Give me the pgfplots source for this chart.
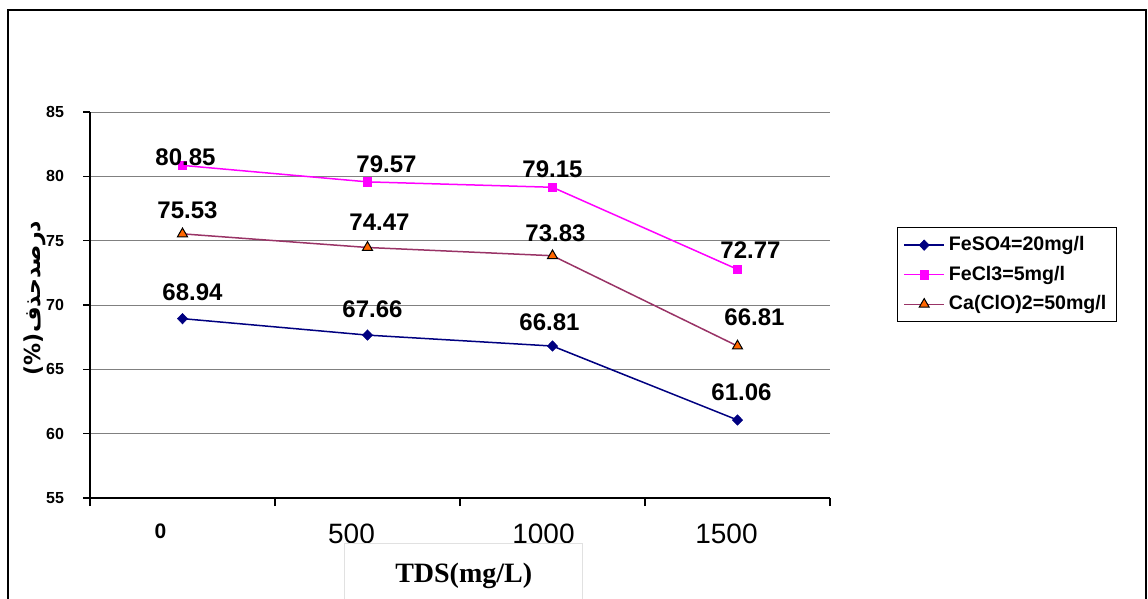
\documentclass[border=0pt]{standalone}
\usepackage{pgfplots}
\pgfplotsset{compat=1.18}
\usepackage{pgfplotstable}
\usepackage{fontspec}
\setmainfont{Liberation Sans}
\newfontfamily\serifb{Liberation Serif}
\newfontfamily\arabicfont[Script=Arabic]{DejaVu Sans}
\TeXXeTstate=1
\definecolor{navyc}{RGB}{0,0,128}
\definecolor{magc}{RGB}{255,0,255}
\definecolor{plumc}{RGB}{153,51,102}
\definecolor{orgc}{RGB}{255,102,0}
\definecolor{gridc}{RGB}{128,128,128}
\definecolor{boxc}{RGB}{225,225,225}

\pgfplotstableread{
x y dx dy
0 68.94 5 13
1 67.66 2.5 13
2 66.81 -1.5 12
3 61.06 2 14
}\feso
\pgfplotstableread{
x y dx dy
0 80.85 1.5 4
1 79.57 9.5 9
2 79.15 0 9
3 72.77 6.5 9.5
}\fecl
\pgfplotstableread{
x y dx dy
0 75.53 2.5 12
1 74.47 6 12.5
2 73.83 1.5 11
3 66.81 8.5 14.5
}\caclo

\begin{document}
\begin{tikzpicture}
\useasboundingbox (0,0) rectangle (574pt,-299.5pt);
\draw[black, line width=0.6pt] (4pt,-310pt) -- (4pt,-5pt) -- (573pt,-5pt) -- (573pt,-310pt);
\begin{axis}[
  at={(45pt,-249pt)}, anchor=south west,
  width=370pt, height=193pt, scale only axis,
  xmin=-0.5, xmax=3.5, ymin=55, ymax=85,
  axis lines*=left,
  axis line style={black, line width=0.6pt},
  xtick={0,1,2,3},
  xticklabels={
    {\raisebox{2.5pt}{\makebox[0pt]{\hspace{-22pt}\bfseries\fontsize{10.5}{11}\selectfont 0}}},
    {\makebox[0pt]{\hspace{-16pt}500}},
    {\makebox[0pt]{\hspace{-9pt}1000}},
    {\makebox[0pt]{\hspace{-11pt}1500}}},
  major x tick style={draw=none},
  xticklabel style={font=\fontsize{14}{16}\selectfont, anchor=base, yshift=-19pt},
  extra x ticks={-0.5,0.5,1.5,2.5,3.5},
  extra x tick labels={},
  extra x tick style={grid=none, major tick length=4pt, tick align=outside,
     major x tick style={draw=black, line width=0.6pt}},
  ytick={55,60,...,85},
  tick align=outside,
  major tick length=3.5pt,
  major y tick style={black, line width=0.6pt},
  yticklabel style={font=\bfseries\fontsize{8}{9}\selectfont, anchor=east, xshift=-6pt},
  /pgf/number format/assume math mode=true,
  ymajorgrids,
  grid style={gridc, line width=0.5pt},
  ylabel={\bfseries\fontsize{11}{13}\selectfont\arabicfont (\%)\beginR درصدحذف\endR},
  ylabel style={at={(axis description cs:-0.0743,0.518)}, anchor=center},
  xlabel={\serifb\bfseries\fontsize{14}{16}\selectfont TDS(mg/L)},
  xlabel style={at={(axis description cs:0.505,-0.1166)}, anchor=north,
     draw=boxc, line width=0.5pt, minimum width=119pt, inner ysep=0pt,
     text height=19.5pt, text depth=19pt},
  clip=false,
  nodes near coords={\pgfmathprintnumber[fixed,fixed zerofill,precision=2,assume math mode=true]{\pgfplotspointmeta}},
  visualization depends on={\thisrow{dx} \as \dx},
  visualization depends on={\thisrow{dy} \as \dy},
  every node near coord/.append style={font=\bfseries\fontsize{12}{14}\selectfont, black,
     anchor=center, xshift=\dx pt, yshift=\dy pt},
  legend style={at={(1.0905,0.702)}, anchor=north west, draw=black, line width=0.5pt,
     font=\bfseries\fontsize{9.8}{12}\selectfont, row sep=2.2pt, inner xsep=3pt, inner ysep=2.5pt},
  legend cell align=left,
  legend image code/.code={\draw[mark repeat=2,mark phase=2,#1] plot coordinates {(0pt,0pt) (10pt,0pt) (20pt,0pt)};},
]
\addplot[navyc, line width=0.75pt, mark=diamond*, mark size=2.6pt,
   mark options={fill=navyc, draw=navyc, xscale=1.3, line width=0.3pt}]
   table[x=x,y=y]{\feso};
\addlegendentry{FeSO4=20mg/l}
\addplot[magc, line width=0.75pt, mark=square*, mark size=2.1pt,
   mark options={fill=magc, draw=magc, line width=0.3pt}]
   table[x=x,y=y]{\fecl};
\addlegendentry{FeCl3=5mg/l}
\addplot[plumc, line width=0.75pt, mark=triangle*, mark size=2.9pt,
   mark options={fill=orgc, draw=black, line width=0.5pt}]
   table[x=x,y=y]{\caclo};
\addlegendentry{Ca(ClO)2=50mg/l}
\end{axis}
\end{tikzpicture}
\end{document}
